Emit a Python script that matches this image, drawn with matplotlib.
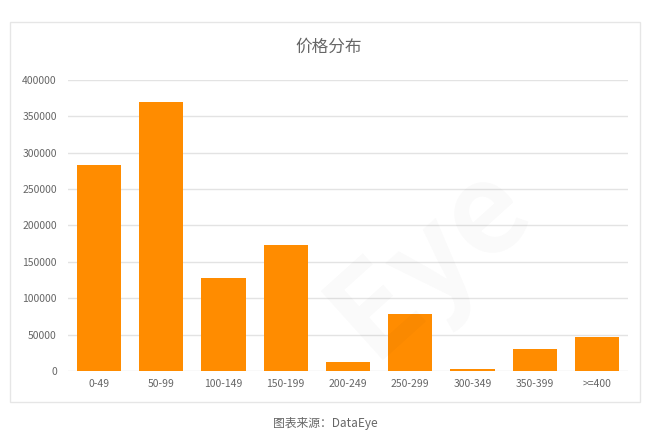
import matplotlib.pyplot as plt
from matplotlib.patches import Rectangle

plt.rcParams['font.family'] = ['Noto Sans CJK SC', 'DejaVu Sans']

# 价格区间及数量
categories = ["0-49", "50-99", "100-149", "150-199", "200-249",
              "250-299", "300-349", "350-399", ">=400"]
counts = [283000, 370000, 128000, 173000, 12500, 78000, 3000, 30000, 47000]
yticks = [0, 50000, 100000, 150000, 200000, 250000, 300000, 350000, 400000]

fig = plt.figure(figsize=(6.66, 4.43), dpi=100)
ax = fig.add_axes([0.102, 0.1625, 0.841, 0.657])

# 外框
fig.patches.append(Rectangle((10 / 666, 1 - 402 / 443), 630 / 666, 380 / 443,
                             transform=fig.transFigure, fill=False,
                             edgecolor="#e6e6e6", linewidth=1.0, zorder=0))

ax.bar(categories, counts, width=0.71, color="#ff8c00", zorder=2)
ax.set_ylim(0, 400000)
ax.set_xlim(-0.5, len(categories) - 0.5)
ax.set_yticks(yticks)
ax.set_yticklabels([str(v) for v in yticks])
ax.yaxis.grid(True, color="#e3e3e3", linewidth=1.0, zorder=0)
ax.set_axisbelow(True)
for s in ax.spines.values():
    s.set_visible(False)
ax.tick_params(axis="both", length=0, labelsize=7.5, colors="#666666")
ax.tick_params(axis="y", pad=8)
ax.tick_params(axis="x", pad=6)

fig.text(0.493, 1 - 47 / 443, "价格分布", ha="center", va="center",
         fontsize=12, color="#666666")
fig.text(0.488, 1 - 424 / 443, "图表来源：DataEye", ha="center", va="center",
         fontsize=8.5, color="#666666")

# 水印（只看得到 Eye 部分）
fig.text(430 / 666, 1 - 260 / 443, "Eye", ha="center", va="center",
         rotation=42, fontsize=90, fontweight="bold",
         color="#000000", alpha=0.022, zorder=5)

fig.savefig("out.png", dpi=100)
